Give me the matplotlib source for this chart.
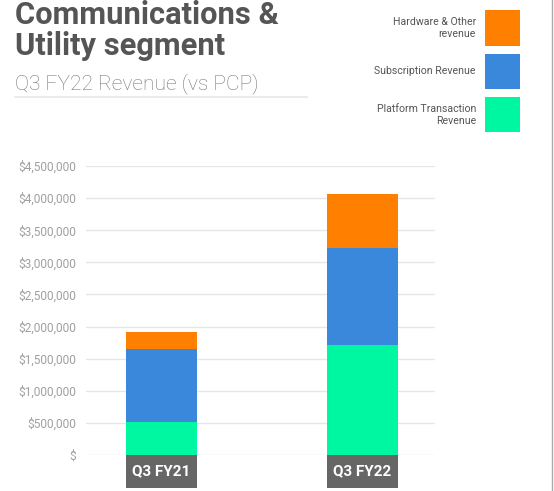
import matplotlib.pyplot as plt
from matplotlib.patches import Rectangle
from matplotlib.ticker import FuncFormatter
import matplotlib.transforms as mtransforms

# data
periods = ["Q3 FY21", "Q3 FY22"]
platform_txn = [510000, 1710000]
subscription = [1140000, 1520000]
hardware_other = [270000, 835000]
series_names = ["Hardware & Other\nrevenue", "Subscription Revenue", "Platform Transaction\nRevenue"]
y_ticks = [0, 500000, 1000000, 1500000, 2000000, 2500000, 3000000, 3500000, 4000000, 4500000]

c_green = "#00F7A2"
c_blue = "#3A88DC"
c_orange = "#FF8000"
c_label = "#666666"

plt.rcParams["font.family"] = ["Roboto", "DejaVu Sans"]

W, H = 554, 491
fig = plt.figure(figsize=(W / 100, H / 100), dpi=100)
fig.patch.set_facecolor("white")

# axes in pixel terms: x 86..435, y 166..455
ax = fig.add_axes([86 / W, (H - 455) / H, (435 - 86) / W, (455 - 166) / H])
xs = [0, 1]
bw = 0.354
ax.bar(xs, platform_txn, width=bw, color=c_green, zorder=3)
ax.bar(xs, subscription, width=bw, bottom=platform_txn, color=c_blue, zorder=3)
bottom2 = [a + b for a, b in zip(platform_txn, subscription)]
ax.bar(xs, hardware_other, width=bw, bottom=bottom2, color=c_orange, zorder=3)

ax.set_xlim(-0.377, 1.364)
ax.set_ylim(0, 4500000)
ax.set_yticks(y_ticks)
ax.yaxis.set_major_formatter(FuncFormatter(lambda v, p: "$" if v == 0 else f"${v:,.0f}"))
ax.tick_params(axis="y", length=0, pad=7, labelsize=8.6, labelcolor="#a0a0a0")
ax.set_xticks([])
for s in ax.spines.values():
    s.set_visible(False)
ax.grid(axis="y", color="#e6e6e6", linewidth=1, zorder=0)
ax.set_axisbelow(True)

# category label boxes under the bars
trans = mtransforms.blended_transform_factory(ax.transData, ax.transAxes)
box_h = 33 / 289
for x, lab in zip(xs, periods):
    ax.add_patch(Rectangle((x - bw / 2, -box_h), bw, box_h, transform=trans,
                           facecolor=c_label, edgecolor="none", clip_on=False))
    ax.text(x, -box_h / 2, lab, transform=trans, ha="center", va="center",
            color="white", fontsize=11, fontweight="bold", clip_on=False)

# titles
fig.text(15 / W, 1 - 24 / H, "Communications &", fontsize=22.2, fontweight="bold",
         color="#555555", va="baseline", ha="left")
fig.text(15 / W, 1 - 55 / H, "Utility segment", fontsize=22.2, fontweight="bold",
         color="#555555", va="baseline", ha="left")
fig.text(15 / W, 1 - 89 / H, "Q3 FY22 Revenue (vs PCP)", fontsize=15.1, fontweight="light",
         color="#777777", va="baseline", ha="left")
fig.add_artist(plt.Line2D([15 / W, 307 / W], [1 - 97 / H, 1 - 97 / H],
                          color="#e8e8e8", linewidth=1.2))

# legend boxes on the right
legend_colors = [c_orange, c_blue, c_green]
legend_boxes = [(10, 46), (54, 89), (97, 132)]
for (top, bot), col, name in zip(legend_boxes, legend_colors, series_names):
    fig.add_artist(Rectangle((485 / W, 1 - bot / H), 35 / W, (bot - top) / H,
                             transform=fig.transFigure, facecolor=col, edgecolor="none"))
    fig.text(476 / W, 1 - ((top + bot) / 2) / H, name, ha="right", va="center",
             multialignment="right", fontsize=7.6, color="#555555", linespacing=1.25)

# right edge border
fig.add_artist(plt.Line2D([552 / W, 552 / W], [0, 1], color="#aaaaaa", linewidth=1))

fig.savefig("out.png", dpi=100)
